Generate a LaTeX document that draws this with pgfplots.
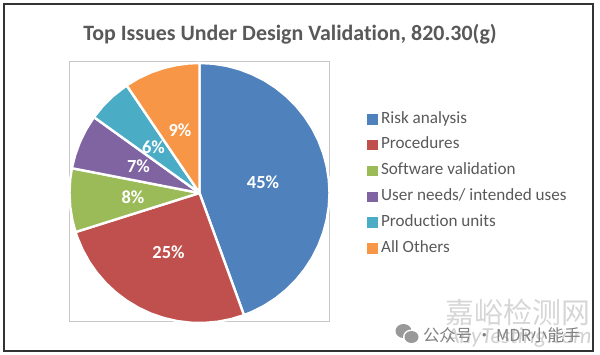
\documentclass[border=0pt]{standalone}
\usepackage{pgfplots}
\pgfplotsset{compat=1.18}
\usepackage{fontspec}
\setmainfont[Ligatures=NoCommon]{Carlito}
\newfontfamily\cjk{Noto Sans CJK SC}
\definecolor{cBlue}{HTML}{4F81BD}
\definecolor{cRed}{HTML}{C0504D}
\definecolor{cGreen}{HTML}{9BBB59}
\definecolor{cPurple}{HTML}{8064A2}
\definecolor{cTeal}{HTML}{4BACC6}
\definecolor{cOrange}{HTML}{F79646}
\definecolor{txt}{HTML}{595959}
\pgfplotsset{wedge/.style={fill=#1,draw=white,line width=2.4bp,line join=miter,data cs=polar,
  legend image code/.code={\fill[#1] (0bp,-3.8bp) rectangle (8bp,4.2bp);\path (11.5bp,0bp);}}}
\begin{document}
\begin{tikzpicture}
\path[use as bounding box] (0,0) rectangle (600bp,355bp);
\begin{axis}[at={(0,0)},anchor=south west,scale only axis,width=600bp,height=355bp,
  xmin=-199.5,xmax=400.5,ymin=-162,ymax=193,hide axis,clip=false,
  legend style={draw=none,fill=none,at={(axis cs:167.5,80.5)},anchor=north west,
    inner xsep=0pt,inner ysep=0pt,row sep=11.8bp,
    font=\fontsize{17.2}{17.2}\selectfont\color{txt},
    nodes={inner xsep=0pt,inner ysep=0pt,text height=10.5bp,text depth=3.5bp}},
  legend cell align=left,
]
% frames
\draw[color=black!80,line width=1.5bp] (axis cs:-195.5,189) rectangle (axis cs:393.5,-158);
\draw[color=black!22,line width=1bp] (axis cs:-130.5,131) rectangle (axis cs:129.5,-129);
% pie
\addplot[wedge=cBlue] coordinates {(0,0)(90,130)(84,130)(78,130)(72,130)(66,130)(60,130)(54,130)(48,130)(42,130)(36,130)(30,130)(24,130)(18,130)(12,130)(6,130)(0,130)(-6,130)(-12,130)(-18,130)(-24,130)(-30,130)(-36,130)(-42,130)(-48,130)(-54,130)(-60,130)(-66,130)(-70,130)(0,0)};
\addlegendentry{Risk analysis}
\addplot[wedge=cRed] coordinates {(0,0)(290,130)(284,130)(278,130)(272,130)(266,130)(260,130)(254,130)(248,130)(242,130)(236,130)(230,130)(224,130)(218,130)(212,130)(206,130)(200,130)(197.5,130)(0,0)};
\addlegendentry{Procedures}
\addplot[wedge=cGreen] coordinates {(0,0)(197.5,130)(192,130)(186,130)(180,130)(174,130)(169,130)(0,0)};
\addlegendentry{Software validation}
\addplot[wedge=cPurple] coordinates {(0,0)(169,130)(163,130)(157,130)(151,130)(144.3,130)(0,0)};
\addlegendentry{User needs/ intended uses}
\addplot[wedge=cTeal] coordinates {(0,0)(144.3,130)(138,130)(132,130)(124.1,130)(0,0)};
\addlegendentry{Production units}
\addplot[wedge=cOrange] coordinates {(0,0)(124.1,130)(118,130)(112,130)(106,130)(100,130)(95,130)(90,130)(0,0)};
\addlegendentry{All Others}
% percentage labels
\begin{scope}[every node/.style={text=white,font=\fontsize{18.5}{18.5}\selectfont\bfseries}]
\node at (axis cs:63.5,11) {45\%};
\node at (axis cs:-31,-59) {25\%};
\node at (axis cs:-66.5,-4) {8\%};
\node at (axis cs:-61,27) {7\%};
\node at (axis cs:-46,46) {6\%};
\node at (axis cs:-19.5,63) {9\%};
\end{scope}
% title
\node[text=txt,font=\fontsize{22}{22}\selectfont\bfseries] at (axis cs:90.5,158.5) {Top Issues Under Design Validation, 820.30(g)};
% watermark
\node[text=black!18,font=\fontsize{23}{23}\selectfont\itshape] at (axis cs:319.5,-145) {AnyTesting.com};
\node[text=black!16,font=\fontsize{29}{29}\selectfont\cjk] at (axis cs:318.5,-119) {嘉峪检测网};
\fill[black!40] (axis cs:204,-138) ellipse [x radius=8bp,y radius=7bp];
\fill[white] (axis cs:212,-144) ellipse [x radius=8.5bp,y radius=7.5bp];
\fill[black!40] (axis cs:212,-144) ellipse [x radius=7bp,y radius=6bp];
\node[text=black!50,font=\fontsize{16.5}{16.5}\selectfont\cjk,anchor=west] at (axis cs:220,-142) {公众号 · MDR小能手};
\end{axis}
\end{tikzpicture}
\end{document}
